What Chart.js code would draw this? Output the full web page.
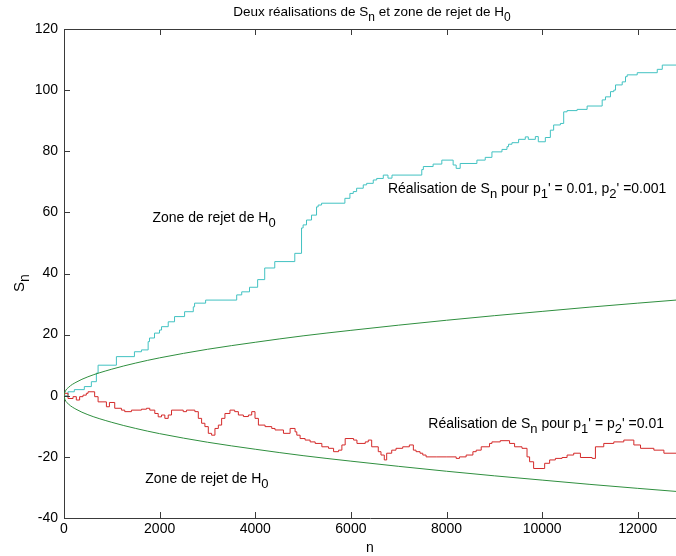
<!DOCTYPE html>
<html>
<head>
<meta charset="utf-8">
<script src="https://cdn.jsdelivr.net/npm/chart.js@4.4.0/dist/chart.umd.min.js"></script>
<style>
  body { margin: 0; background: #fff; }
  canvas { display: block; }
</style>
</head>
<body>
<canvas id="graphe" width="676" height="556"></canvas>
<script>
// Réalisation 1 : p1' = 0.01, p2' = 0.001 (n où la marche saute, valeur après le saut)
const nCyan = [0, 84, 216, 425, 572, 677, 713, 1096, 1473, 1620, 1760, 1788, 1893, 1998, 2040, 2180, 2312, 2522, 2704, 2731,
  2962, 3612, 3717, 3880, 4050, 4198, 4408, 4827, 4968, 5001, 5072, 5177, 5282, 5316, 5387, 5875, 5980, 6050, 6120, 6259,
  6330, 6468, 6540, 6678, 6776, 6860, 7483, 7516, 7720, 7902, 8139, 8202, 8286, 8636, 8810, 8950, 9160, 9265, 9298, 9369,
  9508, 9648, 9711, 9858, 9920, 10067, 10172, 10241, 10382, 10451, 10522, 10732, 10941, 11256, 11325, 11430, 11499, 11535, 11675, 11744,
  11779, 11989, 12408, 12513, 12800];
const sCyan = [0, 1.3, 2, 3, 4.6, 7.4, 10, 12.8, 14.4, 15, 17.7, 18.9, 20.5, 21.5, 22.6, 24.2, 25.9, 27.5, 29.1, 30.3,
  31.3, 33, 34, 35.5, 38, 41.8, 43.9, 46.6, 54.9, 55.9, 57.5, 59.1, 61.8, 62.4, 63, 64.6, 66.2, 66.8, 67.9, 69,
  69.5, 70.6, 71.1, 72.2, 71.2, 72.2, 74, 75, 75.8, 77.1, 75.5, 74.4, 76, 77.1, 78, 79.8, 80.6, 81.5, 82.3, 82.8,
  83.9, 84.7, 83.9, 84.8, 83.1, 84.5, 86.9, 88.6, 89.1, 92.9, 93.3, 93.7, 94.8, 96.8, 97.8, 99.5, 100, 101.7, 102.7, 104.4,
  105, 105.7, 106.8, 108.2, 108.2];

// Réalisation 2 : p1' = p2' = 0.01
const nRouge = [0, 13, 84, 189, 258, 327, 398, 467, 503, 641, 713, 887, 950, 1061, 1201, 1270, 1411, 1620, 1725, 1794,
  1899, 1970, 2039, 2109, 2180, 2249, 2494, 2563, 2737, 2809, 2878, 2947, 3018, 3087, 3157, 3228, 3297, 3366, 3471, 3570,
  3647, 3752, 3857, 3926, 3995, 4066, 4205, 4345, 4414, 4590, 4729, 4833, 4869, 4938, 5043, 5148, 5253, 5393, 5533, 5638,
  5743, 5812, 5881, 6057, 6127, 6301, 6364, 6435, 6573, 6630, 6699, 6749, 6854, 6944, 7084, 7223, 7307, 7363, 7447, 7504,
  7573, 7797, 8007, 8202, 8271, 8411, 8552, 8621, 8726, 8900, 8950, 9124, 9319, 9424, 9579, 9684, 9738, 9822, 10019, 10053,
  10157, 10277, 10417, 10522, 10660, 10801, 11046, 11115, 11289, 11499, 11708, 11918, 12058, 12337, 12547, 12800];
const sRouge = [0, 0.8, -0.9, -0.3, -1.4, -0.3, 0.2, 0.8, 1.3, -0.3, -2, -3.6, -2.2, -4.1, -4.7, -5.2, -4.7, -4.4, -4.1, -4.7,
  -5.8, -6.9, -6.3, -7.4, -6.3, -4.7, -5.2, -4.7, -5.2, -7.4, -9, -10.1, -12.3, -12.9, -10.7, -9.6, -7.4, -5.8, -4.7, -5.2,
  -6.3, -6.8, -6.3, -5.2, -7.4, -9.6, -10.1, -10.7, -11.2, -12.3, -10.7, -11.8, -12.9, -14, -14.5, -15.1, -15.6, -16.7, -17.2, -18.3,
  -17.8, -16.1, -14, -14.5, -15.6, -15.1, -14.5, -16.7, -18.3, -19.4, -21, -18.8, -17.8, -17.2, -16.7, -16.1, -17.8, -18.3, -18.8, -19.4,
  -20, -20, -20, -20.5, -20, -19.4, -18.3, -17.8, -16.7, -15.6, -15.1, -14.7, -15.6, -16.7, -17.2, -20, -21.6, -23.8, -23.8, -22.1,
  -21, -20.5, -20.2, -19.4, -18.8, -20.2, -20.5, -16.7, -15.6, -15.1, -14.5, -16.1, -17.2, -17.8, -18.8, -18.8];

// frontières de la zone de rejet
const nBord = [0, 20, 100, 250, 500, 1000, 1500, 2000, 3000, 4000, 5000, 6000, 7000, 8000, 9000, 10000, 11000, 12000, 12800];
const sBordHaut = [0, 1.2, 2.8, 4.4, 6.2, 8.7, 10.7, 12.4, 15.2, 17.5, 19.6, 21.4, 23.1, 24.7, 26.2, 27.6, 29, 30.3, 31.3];
const sBordBas = [0, -1.2, -2.8, -4.4, -6.2, -8.7, -10.7, -12.4, -15.2, -17.5, -19.6, -21.4, -23.1, -24.7, -26.2, -27.6, -29, -30.3, -31.3];

const xTicks = [0, 2000, 4000, 6000, 8000, 10000, 12000];
const yTicks = [-40, -20, 0, 20, 40, 60, 80, 100, 120];

const points = (xs, ys) => xs.map((x, i) => ({ x: x, y: ys[i] }));

const FONT = '"Liberation Sans", Arial, Helvetica, sans-serif';

// texte avec indices : parts = [[texte, estIndice], ...]
function texteRiche(ctx, parts, x, y, align, taille) {
  const normal = taille + 'px ' + FONT;
  const petit = Math.round(taille * 0.9) + 'px ' + FONT;
  let w = 0;
  parts.forEach(p => {
    ctx.font = p[1] ? petit : normal;
    w += ctx.measureText(p[0]).width;
  });
  let cx = align === 'center' ? x - w / 2 : x;
  ctx.textAlign = 'left';
  ctx.textBaseline = 'alphabetic';
  parts.forEach(p => {
    ctx.font = p[1] ? petit : normal;
    ctx.fillText(p[0], cx, p[1] ? y + 5 : y);
    cx += ctx.measureText(p[0]).width;
  });
}

const decor = {
  id: 'decor',
  afterDraw(chart) {
    const ctx = chart.ctx;
    const a = chart.chartArea;
    const sx = chart.scales.x, sy = chart.scales.y;
    ctx.save();
    ctx.strokeStyle = '#3a3a3a';
    ctx.lineWidth = 1;
    ctx.beginPath();
    // bord haut
    ctx.moveTo(a.left, a.top + 0.5);
    ctx.lineTo(a.right, a.top + 0.5);
    // graduations vers l'intérieur
    xTicks.forEach(v => {
      const px = Math.round(sx.getPixelForValue(v)) + 0.5;
      ctx.moveTo(px, a.bottom);
      ctx.lineTo(px, a.bottom - 6);
      ctx.moveTo(px, a.top);
      ctx.lineTo(px, a.top + 6);
    });
    yTicks.forEach(v => {
      const py = Math.round(sy.getPixelForValue(v)) + 0.5;
      ctx.moveTo(a.left, py);
      ctx.lineTo(a.left + 6, py);
    });
    ctx.stroke();

    ctx.fillStyle = '#000';
    // titre
    texteRiche(ctx, [['Deux réalisations de S', false], ['n', true], [' et zone de rejet de H', false], ['0', true]],
      372, 16, 'center', 13.5);
    // titre axe x
    ctx.font = '14px ' + FONT;
    ctx.textAlign = 'center';
    ctx.fillText('n', 370, 552);
    // titre axe y
    ctx.save();
    ctx.translate(24, 283);
    ctx.rotate(-Math.PI / 2);
    texteRiche(ctx, [['S', false], ['n', true]], 0, 0, 'center', 15);
    ctx.restore();

    // annotations
    const px = v => sx.getPixelForValue(v), py = v => sy.getPixelForValue(v);
    texteRiche(ctx, [['Zone de rejet de H', false], ['0', true]], px(1850), py(58.4) + 5, 'left', 14);
    texteRiche(ctx, [['Réalisation de S', false], ['n', true], [' pour p', false], ['1', true], ["' = 0.01, p", false], ['2', true], ["' =0.001", false]],
      px(6775), py(68) + 5, 'left', 14);
    texteRiche(ctx, [['Réalisation de S', false], ['n', true], [' pour p', false], ['1', true], ["' = p", false], ['2', true], ["' =0.01", false]],
      px(7620), py(-9) + 5, 'left', 14);
    texteRiche(ctx, [['Zone de rejet de H', false], ['0', true]], px(1700), py(-27) + 5, 'left', 14);
    ctx.restore();
  }
};

new Chart(document.getElementById('graphe'), {
  type: 'line',
  data: {
    datasets: [
      {
        data: points(nBord, sBordHaut),
        borderColor: '#2f8f3f',
        borderWidth: 1,
        cubicInterpolationMode: 'monotone',
        pointRadius: 0
      },
      {
        data: points(nBord, sBordBas),
        borderColor: '#2f8f3f',
        borderWidth: 1,
        cubicInterpolationMode: 'monotone',
        pointRadius: 0
      },
      {
        data: points(nRouge, sRouge),
        borderColor: '#d42a2a',
        borderWidth: 1,
        stepped: 'before',
        pointRadius: 0
      },
      {
        data: points(nCyan, sCyan),
        borderColor: '#42c2c2',
        borderWidth: 1,
        stepped: 'before',
        pointRadius: 0
      }
    ]
  },
  options: {
    responsive: false,
    animation: false,
    devicePixelRatio: 1,
    layout: { padding: { top: 29, right: 0, left: 0, bottom: 0 } },
    plugins: {
      legend: { display: false },
      title: { display: false },
      tooltip: { enabled: false }
    },
    scales: {
      x: {
        type: 'linear',
        min: 0,
        max: 12800,
        afterBuildTicks: s => { s.ticks = xTicks.map(v => ({ value: v })); },
        afterFit: s => { s.height = 38; },
        ticks: { color: '#000', font: { family: FONT, size: 14 }, padding: 3, maxRotation: 0, autoSkip: false,
          callback: v => String(v) },
        grid: { drawOnChartArea: false, drawTicks: false },
        border: { color: '#3a3a3a' }
      },
      y: {
        min: -40,
        max: 120,
        afterBuildTicks: s => { s.ticks = yTicks.map(v => ({ value: v })); },
        afterFit: s => { s.width = 64; },
        ticks: { color: '#000', font: { family: FONT, size: 14 }, padding: 6, autoSkip: false,
          callback: v => String(v) },
        grid: { drawOnChartArea: false, drawTicks: false },
        border: { color: '#3a3a3a' }
      }
    }
  },
  plugins: [decor]
});
</script>
</body>
</html>
